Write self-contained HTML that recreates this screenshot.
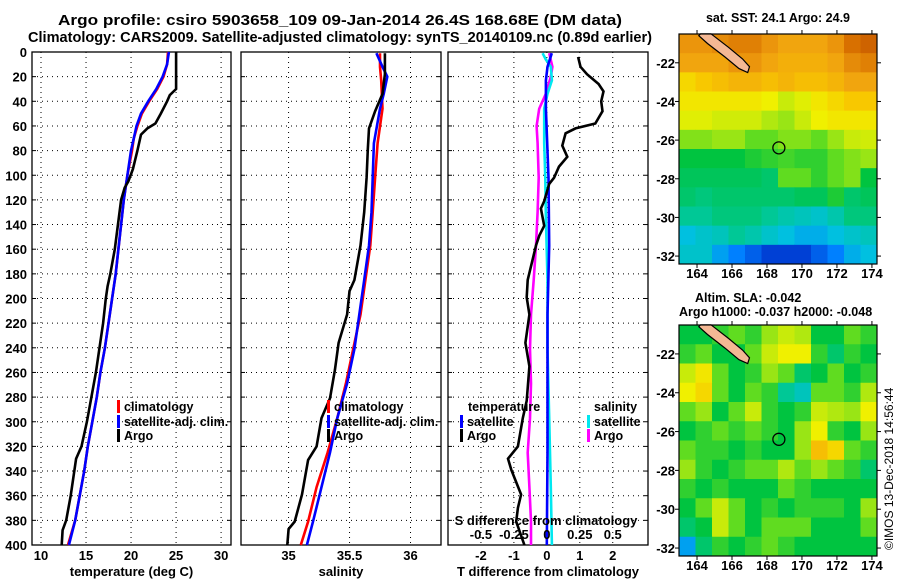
<!DOCTYPE html>
<html><head><meta charset="utf-8">
<style>
html,body{margin:0;padding:0;background:#fff;}
svg{display:block;font-family:"Liberation Sans",Arial,sans-serif;font-weight:bold;}
</style></head>
<body>
<svg id="chart" width="900" height="580" viewBox="0 0 900 580" xmlns="http://www.w3.org/2000/svg">
<text x="58" y="25" font-size="14.5" textLength="564" lengthAdjust="spacingAndGlyphs">Argo profile: csiro 5903658_109 09-Jan-2014 26.4S 168.68E (DM data)</text>
<text x="28" y="42" font-size="14.5" textLength="624" lengthAdjust="spacingAndGlyphs">Climatology: CARS2009. Satellite-adjusted climatology: synTS_20140109.nc (0.89d earlier)</text>
<g id="g"></g>
</svg>
<script>
// ---------- Panel 1: temperature ----------
const argoTDepth=[0,30,35,40,50,58,62,67,80,95,105,110,120,160,180,190,200,220,240,260,280,300,320,330,340,360,380,388,400];
const argoT=[25.0,25.0,24.3,24.0,23.3,22.7,21.8,21.1,20.7,20.2,19.7,19.3,18.9,18.2,17.7,17.4,17.2,16.9,16.5,16.1,15.6,15.1,14.5,13.9,13.7,13.3,12.8,12.4,12.3];
const climTDepth=[0,10,20,30,40,50,60,70,80,100,120,160,180,200,220,240,260,280,300,320,340,360,380,400];
const climT=[24.1,24.0,23.6,22.9,22.0,21.2,20.7,20.3,20.1,19.6,19.2,18.6,18.3,17.9,17.5,17.1,16.6,16.2,15.7,15.2,14.8,14.3,13.8,13.0];
const satT=[24.2,24.0,23.5,22.8,21.9,21.1,20.6,20.3,20.0,19.6,19.2,18.6,18.3,17.9,17.5,17.1,16.6,16.2,15.7,15.2,14.8,14.3,13.8,13.1];
const tempTicks=[10,15,20,25,30];
// ---------- Panel 2: salinity ----------
const argoSDepth=[1,18,34,48,62,79,102,130,157,185,194,213,236,258,281,297,320,331,359,381,387,400];
const argoS=[35.79,35.79,35.77,35.71,35.66,35.65,35.64,35.62,35.59,35.54,35.50,35.48,35.41,35.38,35.34,35.27,35.23,35.16,35.11,35.05,35.00,34.99];
const climSDepth=[1,12,23,46,74,102,130,157,185,213,241,269,297,325,353,381,400];
const climS=[35.75,35.75,35.76,35.77,35.73,35.71,35.69,35.67,35.63,35.59,35.53,35.47,35.40,35.32,35.23,35.16,35.10];
const satSDepth=[1,12,20,34,46,74,102,130,157,185,213,241,269,297,325,353,381,400];
const satS=[35.72,35.77,35.81,35.78,35.75,35.70,35.69,35.68,35.66,35.62,35.58,35.54,35.48,35.40,35.34,35.27,35.20,35.15];
const salTicks=[35,35.5,36];
const salTickLabels=["35","35.5","36"];
// ---------- Panel 3: differences ----------
const argoDTDepth=[4,12,18,26,32,40,48,58,62,66,76,85,93,102,107,121,127,141,149,157,185,199,213,236,255,283,297,320,330,339,359,370,381,400];
const argoDT=[0.95,1.02,1.22,1.57,1.72,1.65,1.69,1.47,0.87,0.57,0.47,0.62,0.37,0.22,0.07,-0.08,-0.18,-0.08,-0.23,-0.33,-0.58,-0.61,-0.53,-0.65,-0.53,-0.61,-0.73,-0.88,-1.18,-1.08,-0.78,-0.88,-0.93,-0.68];
const satDTDepth=[1,12,23,46,102,157,213,269,325,400];
const satDT=[0.15,0.02,-0.03,-0.03,0.05,0.07,0.02,0.02,0.02,0.0];
const argoDSDepth=[1,12,20,34,46,60,74,102,130,157,185,213,241,269,297,325,353,381,400];
const argoDS=[0.018,0.042,0.03,-0.008,-0.058,-0.078,-0.07,-0.062,-0.07,-0.082,-0.1,-0.12,-0.128,-0.12,-0.128,-0.145,-0.132,-0.12,-0.12];
const satDSDepth=[1,6,12,23,34,46,74,102,130,157,185,241,297,353,400];
const satDS=[-0.032,-0.008,0.03,0.038,0.005,-0.02,-0.02,-0.012,-0.008,-0.002,0.005,0.005,0.018,0.03,0.038];
const dTTicks=[-2,-1,0,1,2];
const dSTicks=[-0.5,-0.25,0,0.25,0.5];
const dSTickLabels=["-0.5","-0.25","0","0.25","0.5"];
const depthTicks=[0,20,40,60,80,100,120,140,160,180,200,220,240,260,280,300,320,340,360,380,400];
// ---------- Maps ----------
const latTicks=[-22,-24,-26,-28,-30,-32];
const lonTicks=[164,166,168,170,172,174];
const argoLon=168.68, argoLat=-26.4;
const sstGrid=[
[0.88,0.88,0.90,0.92,0.92,0.88,0.85,0.85,0.85,0.88,0.95,0.97],
[0.85,0.85,0.85,0.88,0.88,0.85,0.83,0.83,0.83,0.85,0.90,0.92],
[0.75,0.78,0.80,0.82,0.82,0.80,0.82,0.80,0.80,0.82,0.85,0.85],
[0.72,0.72,0.72,0.72,0.72,0.70,0.65,0.68,0.72,0.75,0.78,0.78],
[0.68,0.68,0.66,0.66,0.66,0.62,0.60,0.65,0.70,0.72,0.72,0.72],
[0.58,0.58,0.60,0.60,0.55,0.55,0.58,0.58,0.55,0.60,0.65,0.66],
[0.45,0.45,0.45,0.45,0.48,0.50,0.52,0.50,0.50,0.55,0.58,0.60],
[0.42,0.42,0.42,0.42,0.42,0.40,0.55,0.55,0.50,0.55,0.58,0.45],
[0.40,0.38,0.40,0.40,0.40,0.40,0.40,0.42,0.42,0.48,0.40,0.42],
[0.35,0.35,0.38,0.38,0.38,0.35,0.32,0.30,0.28,0.32,0.38,0.38],
[0.25,0.28,0.30,0.35,0.32,0.28,0.25,0.22,0.22,0.25,0.28,0.30],
[0.28,0.28,0.20,0.15,0.10,0.05,0.05,0.05,0.10,0.15,0.22,0.25]];
const slaGrid=[
[0.45,0.45,0.50,0.55,0.50,0.60,0.65,0.62,0.45,0.45,0.55,0.50],
[0.50,0.55,0.45,0.45,0.55,0.65,0.70,0.70,0.50,0.40,0.50,0.45],
[0.65,0.72,0.55,0.45,0.50,0.60,0.55,0.40,0.45,0.55,0.45,0.50],
[0.70,0.75,0.55,0.45,0.55,0.50,0.35,0.30,0.55,0.55,0.50,0.62],
[0.55,0.60,0.45,0.55,0.65,0.50,0.45,0.50,0.65,0.62,0.60,0.70],
[0.45,0.50,0.55,0.50,0.55,0.50,0.45,0.60,0.70,0.50,0.45,0.60],
[0.55,0.50,0.50,0.45,0.50,0.45,0.45,0.60,0.80,0.75,0.55,0.50],
[0.60,0.50,0.45,0.50,0.55,0.55,0.62,0.55,0.60,0.55,0.50,0.40],
[0.50,0.45,0.50,0.45,0.45,0.45,0.55,0.50,0.45,0.45,0.45,0.45],
[0.45,0.55,0.65,0.55,0.45,0.50,0.45,0.50,0.50,0.50,0.45,0.60],
[0.40,0.45,0.65,0.55,0.45,0.55,0.55,0.55,0.45,0.45,0.45,0.55],
[0.20,0.40,0.50,0.45,0.50,0.55,0.50,0.45,0.45,0.45,0.45,0.45]];
const landLon=[164.2,164.8,165.8,166.6,167.0,166.9,166.4,165.6,164.6,164.1];
const landLat=[-20.5,-20.5,-21.2,-21.8,-22.2,-22.5,-22.3,-21.7,-21.0,-20.6];

const NS="http://www.w3.org/2000/svg";
const G=document.getElementById('g');
function el(tag,attrs,parent){const e=document.createElementNS(NS,tag);for(const k in attrs)e.setAttribute(k,attrs[k]);(parent||G).appendChild(e);return e;}
function lin(d0,d1,r0,r1){return v=>r0+(v-d0)/(d1-d0)*(r1-r0);}
const Y0=52,Y1=545;
const yD=lin(0,400,Y0,Y1);

function panel(name,x0,x1,xs,ticks,tickLabels,showY,xTitle){
  const g=el('g',{});
  
  
  el('rect',{x:x0,y:Y0,width:x1-x0,height:Y1-Y0,fill:'#fff',stroke:'#000','stroke-width':1.3},g);
  depthTicks.forEach(d=>{
    const y=yD(d);
    if(d>0&&d<400){const l=el('line',{x1:x0,x2:x1,y1:y,y2:y,stroke:'#000','stroke-width':1,'stroke-dasharray':'1,4'},g);
    
    }
    el('line',{x1:x0,x2:x0+4,y1:y,y2:y,stroke:'#000'},g);
    el('line',{x1:x1-4,x2:x1,y1:y,y2:y,stroke:'#000'},g);
    if(showY){const t=el('text',{x:x0-5,y:y+5,'font-size':13,'text-anchor':'end'},g);t.textContent=d;
      
      }
  });
  ticks.forEach((v,i)=>{
    const x=xs(v);
    const l=el('line',{x1:x,x2:x,y1:Y0,y2:Y1,stroke:'#000','stroke-width':1,'stroke-dasharray':'1,4'},g);
    
    
    if(tickLabels){const t=el('text',{x:x,y:560,'font-size':13,'text-anchor':'middle'},g);t.textContent=tickLabels[i];
      
      }
  });
  const tt=el('text',{x:(x0+x1)/2,y:576,'font-size':13,'text-anchor':'middle'},g);tt.textContent=xTitle;
  
  
  return g;
}
function series(g,xs,depths,vals,color,name,w){
  const pts=vals.map((v,i)=>xs(v).toFixed(1)+','+yD(depths[i]).toFixed(1)).join(' ');
  const p=el('polyline',{points:pts,fill:'none',stroke:color,'stroke-width':w||2.6,'stroke-linejoin':'miter'},g);
  
  
}
function legend(g,x,y,color,label,name){
  const b=el('rect',{x:x,y:y-11,width:3,height:13,fill:color},g);
  
  
  const t=el('text',{x:x+7,y:y,'font-size':12.5},g);t.textContent=label;
  
  
}

// Panel 1
const xT=lin(9,31.1,32,231);
const p1=panel('temperature-panel',32,231,xT,tempTicks,tempTicks.map(String),true,'temperature (deg C)');
series(p1,xT,climTDepth,climT,'#ff0000','climatology-temperature-line');
series(p1,xT,climTDepth,satT,'#0000ff','satellite-temperature-line');
series(p1,xT,argoTDepth,argoT,'#000000','argo-temperature-line');

// Panel 2
const xS=lin(34.61,36.25,241,441);
const p2=panel('salinity-panel',241,441,xS,salTicks,salTickLabels,false,'salinity');
series(p2,xS,climSDepth,climS,'#ff0000','climatology-salinity-line');
series(p2,xS,satSDepth,satS,'#0000ff','satellite-salinity-line');
series(p2,xS,argoSDepth,argoS,'#000000','argo-salinity-line');

// Panel 3
const xDT=lin(-3,3.07,448,648);
const xDS=v=>xDT(v*4);
const p3=panel('difference-panel',448,648,xDT,dTTicks,dTTicks.map(String),false,'T difference from climatology');
series(p3,xDS,argoDSDepth,argoDS,'#ff00ff','argo-salinity-diff-line');
series(p3,xDS,satDSDepth,satDS,'#00e8f0','satellite-salinity-diff-line');
series(p3,xDT,satDTDepth,satDT,'#0000ff','satellite-temperature-diff-line');
series(p3,xDT,argoDTDepth,argoDT,'#000000','argo-temperature-diff-line');

// legends drawn on top of all panels
const lg=el('g',{});


legend(lg,117,411,'#ff0000','climatology','legend-climatology');
legend(lg,117,426,'#0000ff','satellite-adj. clim.','legend-satellite');
legend(lg,117,440,'#000000','Argo','legend-argo');
legend(lg,327,411,'#ff0000','climatology','legend-climatology-s');
legend(lg,327,426,'#0000ff','satellite-adj. clim.','legend-satellite-s');
legend(lg,327,440,'#000000','Argo','legend-argo-s');
let t=el('text',{x:468,y:411,'font-size':12.5},lg);t.textContent='temperature';


legend(lg,460,426,'#0000ff','satellite','legend-t-satellite');
legend(lg,460,440,'#000000','Argo','legend-t-argo');
t=el('text',{x:594,y:411,'font-size':12.5},lg);t.textContent='salinity';


legend(lg,587,426,'#00e8f0','satellite','legend-s-satellite');
legend(lg,587,440,'#ff00ff','Argo','legend-s-argo');
t=el('text',{x:546,y:525,'font-size':13,'text-anchor':'middle'},lg);t.textContent='S difference from climatology';


dSTicks.forEach((v,i)=>{const s=el('text',{x:xDS(v),y:539,'font-size':13,'text-anchor':'middle'},lg);s.textContent=dSTickLabels[i];
  
  });

// Maps
const cmap=[[0,[0,32,192]],[0.15,[0,128,255]],[0.25,[0,192,224]],[0.35,[0,200,150]],[0.45,[0,196,64]],[0.55,[96,220,32]],[0.62,[176,232,16]],[0.7,[240,240,0]],[0.78,[248,200,0]],[0.86,[240,160,16]],[0.95,[216,112,0]],[1,[192,80,0]]];
function col(v){for(let i=1;i<cmap.length;i++){if(v<=cmap[i][0]){const a=cmap[i-1],b=cmap[i];const f=(v-a[0])/(b[0]-a[0]);return 'rgb('+a[1].map((c,k)=>Math.round(c+(b[1][k]-c)*f)).join(',')+')';}}return 'rgb(192,80,0)';}
function map(name,top,bottom,grid){
  const x0=679,x1=877;
  const lonX=lin(162.97,174.29,x0,x1), latY=lin(-20.51,-32.41,top,bottom);
  const g=el('g',{});
  
  
  const rows=grid.length, cols=grid[0].length;
  const cw=(x1-x0)/cols, rh=(bottom-top)/rows;
  grid.forEach((row,r)=>row.forEach((v,c)=>{
    const rc=el('rect',{x:x0+c*cw,y:top+r*rh,width:cw+0.5,height:rh+0.5,fill:col(v)},g);
    
    
  }));
  const land=el('polygon',{points:landLon.map((lo,i)=>lonX(lo).toFixed(1)+','+latY(landLat[i]).toFixed(1)).join(' '),fill:'#f4b894',stroke:'#000','stroke-width':1.2},g);
  
  
  el('rect',{x:x0,y:top,width:x1-x0,height:bottom-top,fill:'none',stroke:'#000','stroke-width':1.2},g);
  const c=el('circle',{cx:lonX(argoLon),cy:latY(argoLat),r:6,fill:'none',stroke:'#000','stroke-width':1.3},g);
  
  
  latTicks.forEach(la=>{const y=latY(la);
    el('line',{x1:x0-4,x2:x0,y1:y,y2:y,stroke:'#000'},g);
    el('line',{x1:x1,x2:x1+4,y1:y,y2:y,stroke:'#000'},g);
    const tx=el('text',{x:x0-4,y:y+5,'font-size':13,'text-anchor':'end'},g);tx.textContent=la;
    
    });
  lonTicks.forEach(lo=>{const x=lonX(lo);
    el('line',{x1:x,x2:x,y1:bottom,y2:bottom+4,stroke:'#000'},g);
    el('line',{x1:x,x2:x,y1:top-4,y2:top,stroke:'#000'},g);
    const tx=el('text',{x:x,y:bottom+14,'font-size':13,'text-anchor':'middle'},g);tx.textContent=lo;
    
    });
  return g;
}
map('sst-map',34,264,sstGrid);
map('sla-map',325,556,slaGrid);
t=el('text',{x:778,y:22,'font-size':12.5,'text-anchor':'middle'});t.textContent='sat. SST: 24.1 Argo: 24.9';


t=el('text',{x:695,y:302,'font-size':12.5});t.textContent='Altim. SLA: -0.042';


t=el('text',{x:679,y:316,'font-size':12.5});t.textContent='Argo h1000: -0.037 h2000: -0.048';


t=el('text',{x:893,y:550,'font-size':12,'font-weight':'normal',transform:'rotate(-90 893 550)'});t.textContent='©IMOS 13-Dec-2018 14:56:44';


</script>
</body></html>
